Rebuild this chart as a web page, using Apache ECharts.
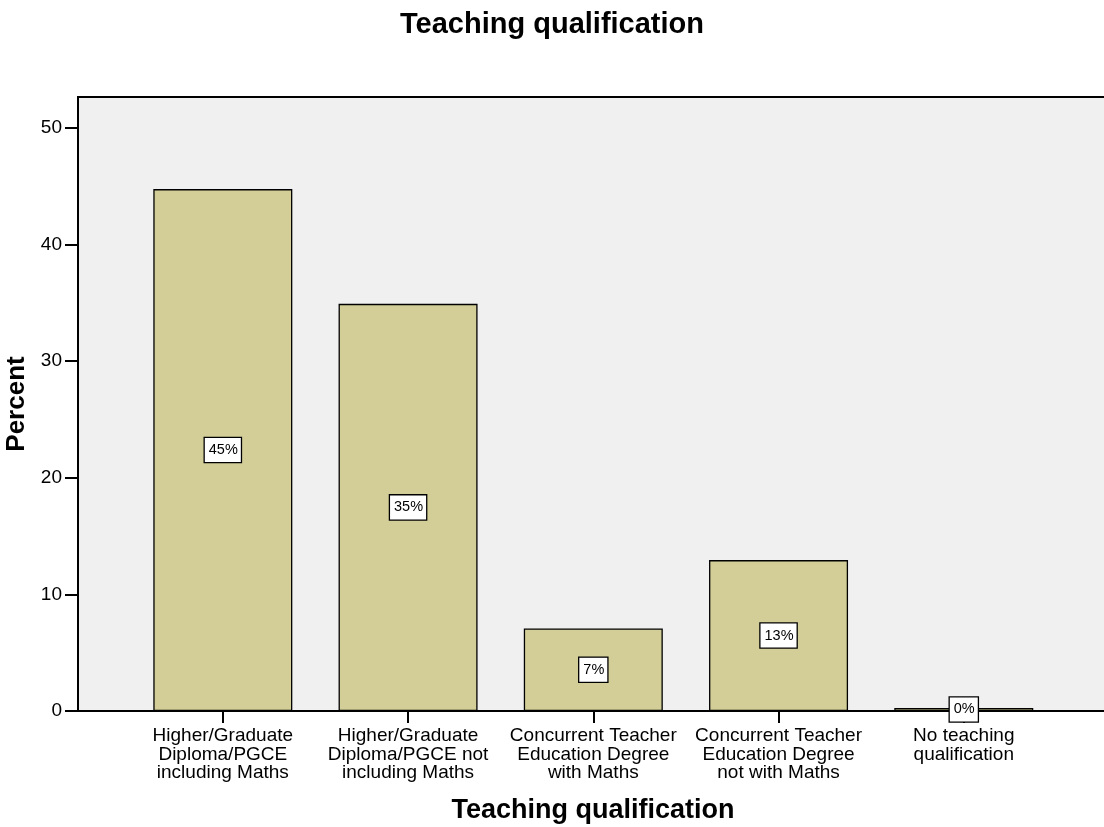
<!DOCTYPE html>
<html>
<head>
<meta charset="utf-8">
<script src="https://cdn.jsdelivr.net/npm/echarts@6/dist/echarts.min.js"></script>
<style>html,body{margin:0;padding:0;background:#fff;}#c{width:1104px;height:827px;}</style>
</head>
<body>
<div id="c"></div>
<script>
const categories = [
  "Higher/Graduate\nDiploma/PGCE\nincluding Maths",
  "Higher/Graduate\nDiploma/PGCE not\nincluding Maths",
  "Concurrent Teacher\nEducation Degree\nwith Maths",
  "Concurrent Teacher\nEducation Degree\nnot with Maths",
  "No teaching\nqualification"
];
const percentValues = [44.76, 34.92, 7.07, 12.94, 0.26];
const yTicks = [0, 10, 20, 30, 40, 50];
const yMax = 52.66;

const FONT = "Liberation Sans, Arial, sans-serif";
const chart = echarts.init(document.getElementById('c'), null, {renderer: 'canvas'});
chart.setOption({
  animation: false,
  backgroundColor: '#ffffff',
  title: {
    text: 'Teaching qualification',
    left: 'center',
    top: 5,
    textStyle: {fontFamily: FONT, fontSize: 29, fontWeight: 'bold', color: '#000'}
  },
  grid: [
    {left: 78, top: 97, right: -4, bottom: 116, show: true, backgroundColor: '#f0f0f0', borderColor: '#000', borderWidth: 2, outerBoundsMode: 'none', containLabel: false},
    {left: 130.2, top: 97, right: 47.6, bottom: 116, show: false, outerBoundsMode: 'none', containLabel: false}
  ],
  xAxis: [
    {
      type: 'value', gridIndex: 0, min: 0, max: 1,
      axisLine: {show: false}, axisTick: {show: false}, axisLabel: {show: false}, splitLine: {show: false},
      name: 'Teaching qualification', nameLocation: 'middle', nameGap: 86,
      nameTextStyle: {fontFamily: FONT, fontSize: 27, fontWeight: 'bold', color: '#000'}
    },
    {
      type: 'category', gridIndex: 1, data: categories,
      axisLine: {show: false},
      axisTick: {show: true, alignWithLabel: true, length: 12, lineStyle: {color: '#000', width: 2}},
      axisLabel: {fontFamily: FONT, fontSize: 19, lineHeight: 18.5, color: '#000', margin: 16, interval: 0}
    }
  ],
  yAxis: [
    {
      type: 'value', gridIndex: 0, min: 0, max: yMax,
      axisLine: {show: true, lineStyle: {color: '#000', width: 2}},
      axisTick: {show: true, length: 13, customValues: yTicks, lineStyle: {color: '#000', width: 2}},
      axisLabel: {fontFamily: FONT, fontSize: 19, color: '#000', margin: 16, customValues: yTicks},
      splitLine: {show: false},
      name: 'Percent', nameLocation: 'middle', nameGap: 40, nameRotate: 90,
      nameTextStyle: {fontFamily: FONT, fontSize: 26, fontWeight: 'bold', color: '#000'}
    },
    {
      type: 'value', gridIndex: 1, min: 0, max: yMax, show: false, splitLine: {show: false}
    }
  ],
  series: [{
    type: 'bar', xAxisIndex: 1, yAxisIndex: 1,
    data: percentValues,
    barWidth: 139,
    itemStyle: {color: '#d3ce98', borderColor: '#000', borderWidth: 1.3},
    label: {
      show: true, position: 'inside',
      formatter: p => Math.round(p.value) + '%',
      fontFamily: FONT, fontSize: 14.5, color: '#000',
      backgroundColor: '#fff', borderColor: '#000', borderWidth: 1.3,
      padding: [5, 3, 4, 4]
    }
  }]
});
</script>
</body>
</html>
